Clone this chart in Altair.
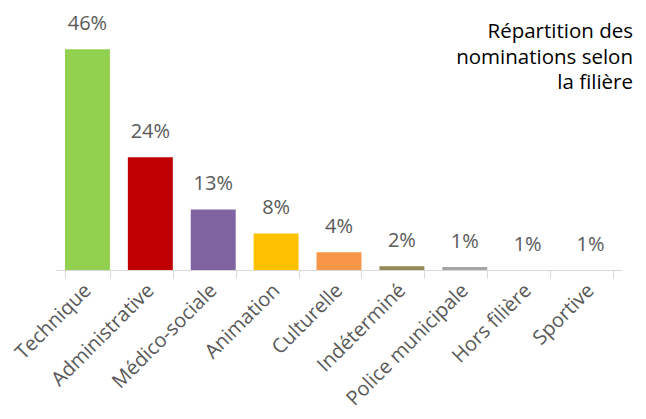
import altair as alt
import pandas as pd

categories = ["Technique", "Administrative", "Médico-sociale", "Animation", "Culturelle",
              "Indéterminé", "Police municipale", "Hors filière", "Sportive"]
values = [46.0, 23.5, 12.6, 7.6, 3.7, 0.8, 0.6, 0.0, 0.0]
labels = ["46%", "24%", "13%", "8%", "4%", "2%", "1%", "1%", "1%"]
colors = ["#92D050", "#C00000", "#8064A2", "#FFC000", "#F79646",
          "#948A54", "#A5A5A5", "#4BACC6", "#1F497D"]
title_text = "Répartition des\nnominations selon\nla filière"

df = pd.DataFrame({"cat": categories, "val": values, "lab": labels})
title_df = pd.DataFrame({"t": [title_text]})

FONT = "Open Sans"

x = alt.X("cat:N", sort=categories, title=None,
          scale=alt.Scale(paddingInner=0.285, paddingOuter=0.1425),
          axis=alt.Axis(labelAngle=-45, labelAlign="right", labelBaseline="middle",
                        labelFont=FONT, labelFontSize=20, labelColor="#595959",
                        labelPadding=9, domainColor="#D9D9D9", tickColor="#D9D9D9",
                        tickSize=8, tickBand="extent", grid=False, labelLimit=300))
y = alt.Y("val:Q", scale=alt.Scale(domain=[0, 50], nice=False), axis=None)

bars = alt.Chart(df).mark_bar().encode(
    x=x, y=y,
    color=alt.Color("cat:N", sort=categories,
                    scale=alt.Scale(domain=categories, range=colors), legend=None),
)
text = alt.Chart(df).mark_text(font=FONT, fontSize=20, color="#595959",
                               baseline="alphabetic", dy=-19.5).encode(
    x=alt.X("cat:N", sort=categories), y="val:Q", text="lab:N")

title = alt.Chart(title_df).mark_text(
    font=FONT, fontSize=20.5, color="#000000", align="right", baseline="alphabetic",
    lineBreak="\n", lineHeight=25.5).encode(
    x=alt.value(577), y=alt.value(8), text="t:N")

chart = (bars + text + title).properties(
    width=566, height=240,
    padding={"left": 48, "top": 22, "right": 16, "bottom": 149},
    autosize=alt.AutoSizeParams(type="none"),
).configure_view(stroke=None)

chart.save("out.html", embed_options={"renderer": "svg", "actions": False})
